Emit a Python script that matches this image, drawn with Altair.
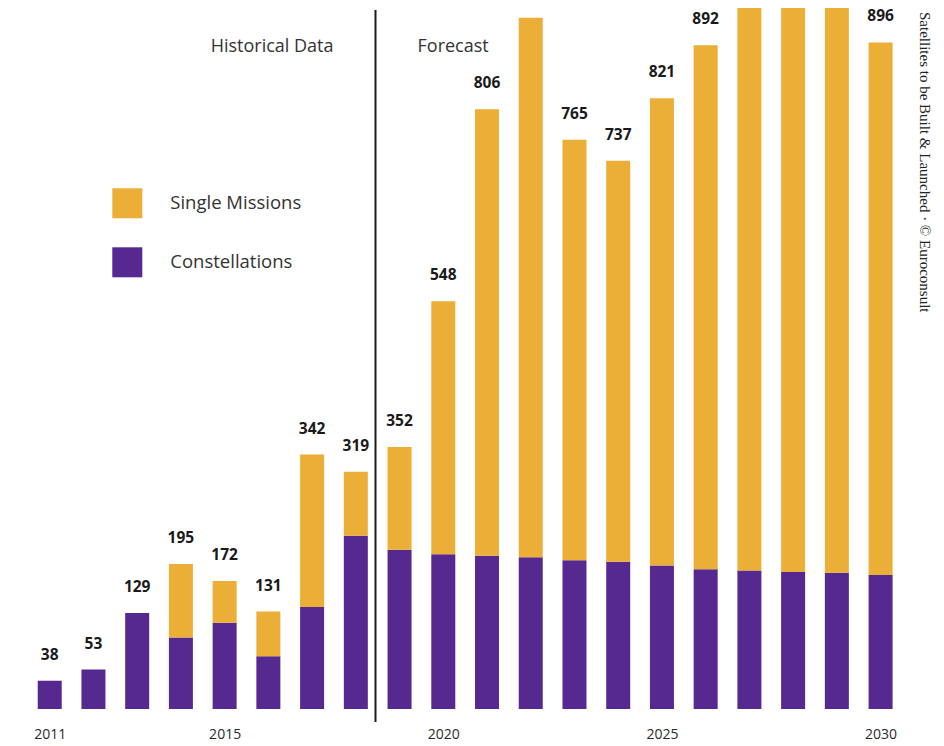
import altair as alt
import pandas as pd

years = list(range(2011, 2031))
constellations = [38, 53, 129, 96, 116, 71, 137, 233, 214, 208, 206, 204, 200, 198, 193, 188, 186, 184, 183, 180]
single_missions = [0, 0, 0, 99, 56, 60, 205, 86, 138, 340, 600, 725, 565, 539, 628, 704, 774, 791, 782, 716]
series_names = ["Single Missions", "Constellations"]
series_colors = ["#EBAE36", "#55298F"]
tick_years = [2011, 2015, 2020, 2025, 2030]
divider_year = 2018.45
side_note = "Satellites to be Built & Launched   ·   © Euroconsult"

rows = []
for y, c, s in zip(years, constellations, single_missions):
    rows.append({"year": y, "series": "Constellations", "value": c, "ord": 0})
    rows.append({"year": y, "series": "Single Missions", "value": s, "ord": 1})
long_df = pd.DataFrame(rows)
tot_df = pd.DataFrame({"year": years, "total": [c + s for c, s in zip(constellations, single_missions)]})

W, H = 928, 701
step = 43.73
d0 = 2010.046
d1 = d0 + W / step
ymax = H / 0.744

xs = alt.Scale(domain=[d0, d1], nice=False, zero=False, padding=0)
ys = alt.Scale(domain=[0, ymax], nice=False)

bars = alt.Chart(long_df).mark_bar(size=24, clip=True).encode(
    x=alt.X("year:Q", scale=xs, axis=alt.Axis(values=tick_years, format="d", grid=False, domain=False,
                                               ticks=False, labelPadding=18, labelFont="Open Sans",
                                               labelFontSize=14, labelColor="#2a2a2a", title=None)),
    y=alt.Y("value:Q", scale=ys, stack="zero", axis=None),
    color=alt.Color("series:N", scale=alt.Scale(domain=series_names, range=series_colors),
                    legend=alt.Legend(orient="none", legendX=104.3, legendY=180.3, title=None,
                                      symbolType="square", symbolSize=900, symbolStrokeWidth=0,
                                      symbolOpacity=1, labelFont="Open Sans", labelFontSize=18.5,
                                      labelColor="#333", labelOffset=28, rowPadding=29, padding=0)),
    order=alt.Order("ord:Q"),
)

# labels that sit above the top edge of the picture are not visible in the reference
labels = alt.Chart(tot_df).transform_filter(alt.datum.total <= 900).mark_text(
    dy=-26, baseline="middle", align="center", font="Open Sans",
    fontWeight="bold", fontSize=15.5, color="#1a1a1a").encode(
    x=alt.X("year:Q", scale=xs),
    y=alt.Y("total:Q", scale=ys),
    text=alt.Text("total:Q", format="d"),
)

divider = alt.Chart(pd.DataFrame({"x": [divider_year]})).mark_rule(color="#1a1a1a", strokeWidth=2).encode(
    x=alt.X("x:Q", scale=xs), y=alt.value(2), y2=alt.value(714)
)

hist = alt.Chart(pd.DataFrame({"x": [divider_year], "t": ["Historical Data"]})).mark_text(
    align="right", baseline="middle", dx=-42, font="Open Sans", fontSize=18, color="#333"
).encode(x=alt.X("x:Q", scale=xs), y=alt.value(39), text="t:N")

fore = alt.Chart(pd.DataFrame({"x": [divider_year], "t": ["Forecast"]})).mark_text(
    align="left", baseline="middle", dx=42, font="Open Sans", fontSize=18, color="#333"
).encode(x=alt.X("x:Q", scale=xs), y=alt.value(39), text="t:N")

note = alt.Chart(pd.DataFrame({"t": [side_note]})).mark_text(
    angle=90, align="left", baseline="middle", font="Liberation Serif", fontSize=15,
    color="#222"
).encode(x=alt.value(917), y=alt.value(4), text="t:N")

chart = alt.layer(bars, labels, divider, hist, fore, note).properties(
    width=W, height=H, padding=0
).configure_view(stroke=None)

chart.save("out.html", embed_options={"renderer": "svg", "actions": False})
